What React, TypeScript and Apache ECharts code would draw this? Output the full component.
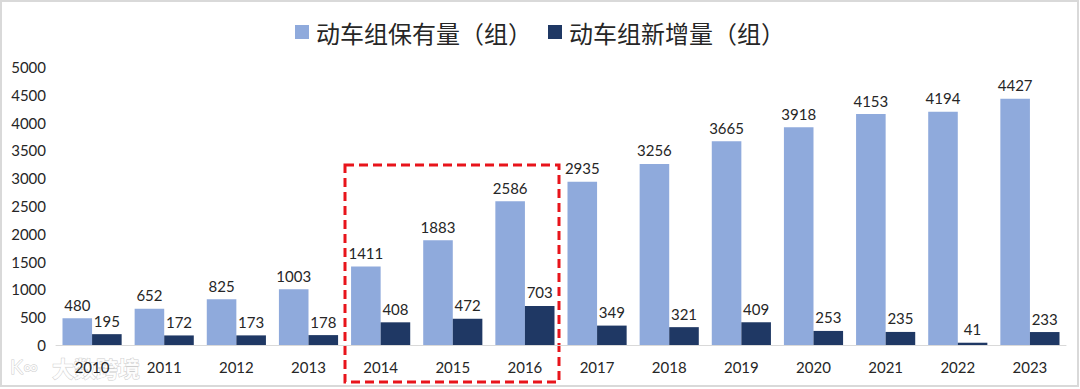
import React, { useEffect, useRef } from "react";
import * as echarts from "echarts";

const years = ["2010", "2011", "2012", "2013", "2014", "2015", "2016", "2017", "2018", "2019", "2020", "2021", "2022", "2023"];
const stockValues = [480, 652, 825, 1003, 1411, 1883, 2586, 2935, 3256, 3665, 3918, 4153, 4194, 4427];
const newValues = [195, 172, 173, 178, 408, 472, 703, 349, 321, 409, 253, 235, 41, 233];
const seriesNames = ["动车组保有量（组）", "动车组新增量（组）"];

const FONT = "Lato, 'Open Sans', 'Noto Sans CJK SC', sans-serif";

export default function App() {
  const ref = useRef<HTMLDivElement>(null);
  useEffect(() => {
    if (!ref.current) return;
    const chart = echarts.init(ref.current, undefined, { renderer: "svg" });
    chart.setOption({
      animation: false,
      backgroundColor: "#ffffff",
      textStyle: { fontFamily: FONT },
      legend: {
        top: 15,
        left: "center",
        itemWidth: 14,
        itemHeight: 14,
        itemGap: 16,
        icon: "rect",
        textStyle: { fontSize: 24, color: "#262626", fontFamily: "'Noto Sans CJK SC', sans-serif", padding: [0, 0, 0, 2] },
        data: seriesNames,
      },
      grid: { left: 56, right: 14, top: 67, bottom: 44, containLabel: false },
      xAxis: {
        type: "category",
        data: years,
        axisLine: { lineStyle: { color: "#d9d9d9", width: 1 } },
        axisTick: { show: false },
        axisLabel: { fontSize: 15, color: "#262626", margin: 14 },
      },
      yAxis: {
        type: "value",
        min: 0,
        max: 5000,
        interval: 500,
        axisLine: { show: false },
        axisTick: { show: false },
        splitLine: { show: false },
        axisLabel: { fontSize: 15, color: "#262626", margin: 10, formatter: (v: number) => String(v) },
      },
      series: [
        {
          name: seriesNames[0],
          type: "bar",
          data: stockValues,
          barGap: "0%",
          barCategoryGap: "18%",
          itemStyle: { color: "#8FAADC" },
          label: { show: true, position: "top", fontSize: 15, color: "#262626", distance: 6 },
        },
        {
          name: seriesNames[1],
          type: "bar",
          data: newValues,
          barGap: "0%",
          barCategoryGap: "18%",
          itemStyle: { color: "#1F3864" },
          label: { show: true, position: "top", fontSize: 15, color: "#262626", distance: 6 },
        },
      ],
      graphic: [
        {
          type: "rect",
          shape: { x: 1, y: 1, width: 1077, height: 385 },
          style: { fill: "none", stroke: "#d9d9d9", lineWidth: 2 },
          silent: true,
        },
        {
          type: "rect",
          shape: { x: 345, y: 165, width: 214, height: 217 },
          style: { fill: "none", stroke: "#e8141b", lineWidth: 3, lineDash: [9, 5] },
          silent: true,
        },
        {
          type: "text",
          x: 10,
          y: 356,
          style: {
            text: "K∞",
            fontSize: 20,
            fontFamily: FONT,
            fill: "#ffffff",
            stroke: "#c8c8c8",
            lineWidth: 1,
            opacity: 0.9,
          },
          silent: true,
        },
        {
          type: "text",
          x: 52,
          y: 356,
          style: {
            text: "大数跨境",
            fontSize: 22,
            fontWeight: "bold",
            fontFamily: "'Noto Sans CJK SC', sans-serif",
            fill: "#ffffff",
            stroke: "#c8c8c8",
            lineWidth: 1,
            opacity: 0.9,
          },
          silent: true,
        },
      ],
    });
    return () => chart.dispose();
  }, []);
  return (
    <div
      ref={ref}
      style={{ position: "fixed", left: 0, top: 0, width: 1080, height: 389, background: "#fff" }}
    />
  );
}
